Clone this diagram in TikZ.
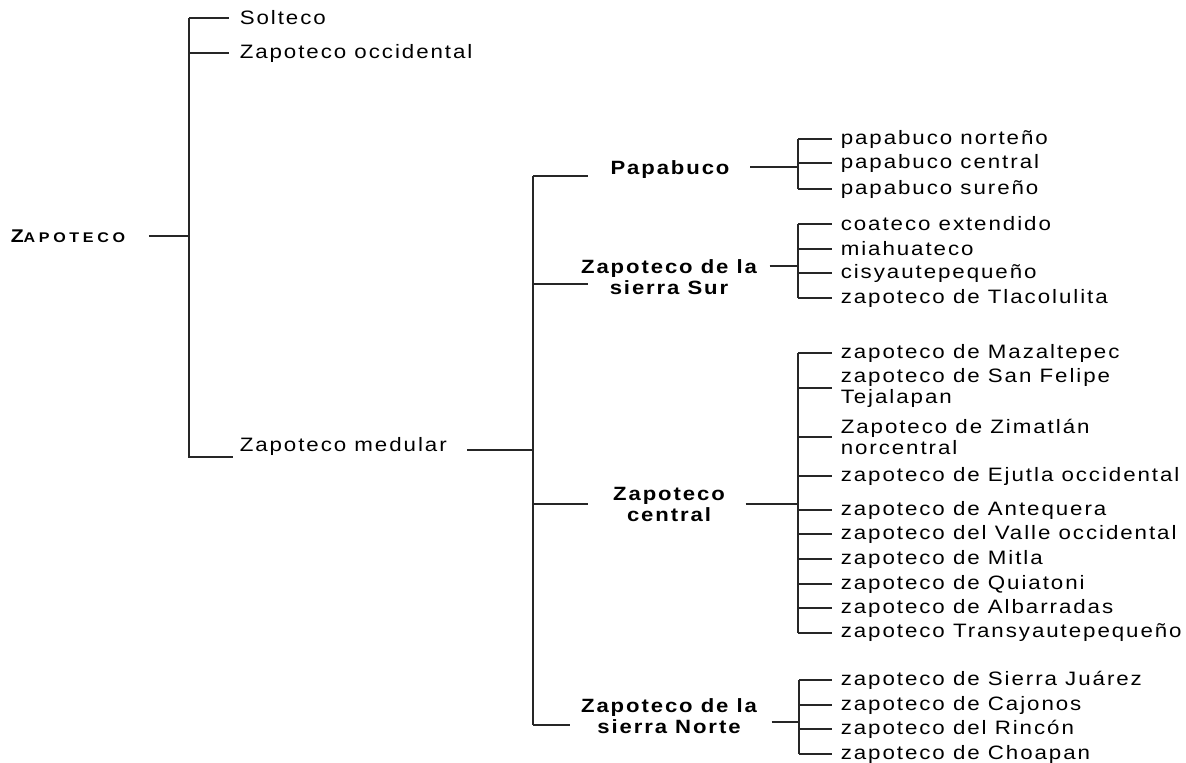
\documentclass[tikz,border=0pt]{standalone}
\usepackage{fontspec}
\setmainfont{Liberation Sans}[FakeStretch=1.15, LetterSpace=10]
\usetikzlibrary{calc,positioning}

\tikzset{
  leaf/.style={anchor=west, inner sep=0pt, align=left, font=\fontsize{9.7}{10.5}\selectfont},
  group/.style={inner sep=0pt, align=center, font=\fontsize{9.6}{10.5}\selectfont\bfseries},
  root/.style={anchor=west, inner sep=0pt, font=\bfseries\addfontfeature{LetterSpace=26}},
}

\begin{document}
\begin{tikzpicture}[x=0.5pt, y=-0.5pt, line width=0.75pt, draw=black!85]
    \useasboundingbox (0,0) rectangle (1186,763);

    \node[root] (zap) at (10,236) {\fontsize{9.2}{10}\selectfont Z\fontsize{7}{8}\selectfont APOTECO};
    \node[leaf] (sol) at (239,18) {Solteco};
    \node[leaf] (occ) at (239,53) {Zapoteco occidental};
    \node[leaf] (med) at (239,446) {Zapoteco medular};

    \node[group] (pap) at (670,170) {Papabuco};
    \node[group] (sur) at (669,277) {Zapoteco de la\\sierra Sur};
    \node[group] (cen) at (669,504) {Zapoteco\\central};
    \node[group] (nor) at (669,716) {Zapoteco de la\\sierra Norte};

    \node[leaf] (pa1) at (840,139) {papabuco norteño};
    \node[leaf] (pa2) at (840,163) {papabuco central};
    \node[leaf] (pa3) at (840,189) {papabuco sureño};

    \node[leaf] (su1) at (840,224) {coateco extendido};
    \node[leaf] (su2) at (840,249) {miahuateco};
    \node[leaf] (su3) at (840,273) {cisyautepequeño};
    \node[leaf] (su4) at (840,298) {zapoteco de Tlacolulita};

    \node[leaf] (ce1) at (840,353) {zapoteco de Mazaltepec};
    \node[leaf] (ce2) at (840,388) {zapoteco de San Felipe\\Tejalapan};
    \node[leaf] (ce3) at (840,437) {Zapoteco de Zimatlán\\norcentral};
    \node[leaf] (ce4) at (840,476) {zapoteco de Ejutla occidental};
    \node[leaf] (ce5) at (840,510) {zapoteco de Antequera};
    \node[leaf] (ce6) at (840,534) {zapoteco del Valle occidental};
    \node[leaf] (ce7) at (840,559) {zapoteco de Mitla};
    \node[leaf] (ce8) at (840,584) {zapoteco de Quiatoni};
    \node[leaf] (ce9) at (840,608) {zapoteco de Albarradas};
    \node[leaf] (ce10) at (840,633) {zapoteco Transyautepequeño};

    \node[leaf] (no1) at (840,680) {zapoteco de Sierra Juárez};
    \node[leaf] (no2) at (840,705) {zapoteco de Cajonos};
    \node[leaf] (no3) at (840,729) {zapoteco del Rincón};
    \node[leaf] (no4) at (840,754) {zapoteco de Choapan};

    % bus points and free ends
    \coordinate (b0) at (189,457);
    \coordinate (b1) at (533,450);
    \coordinate (bp) at (798,167);
    \coordinate (bs) at (798,266);
    \coordinate (bc) at (798,504);
    \coordinate (bn) at (799,722);
    \coordinate (mend) at (233,457);
    \coordinate (pend) at (588,176);
    \coordinate (send) at (588,284);
    \coordinate (cend) at (588,504);
    \coordinate (nend) at (570,725);

    \draw[shorten <=11.5pt] (zap.east) -- (b0 |- zap.east);
    \draw (b0 |- sol.west) -- (b0) -- (mend);
    \foreach \n in {sol,occ}
        \draw[shorten >=5pt] (b0 |- \n.west) -- (\n.west);

    \draw[shorten <=10pt] ([yshift=-2pt]med.east) -- (b1);
    \draw (b1 |- pend) -- (b1 |- nend);
    \foreach \e in {pend,send,cend,nend}
        \draw (b1 |- \e) -- (\e);

    \draw[shorten <=10pt] ([yshift=1.5pt]pap.east) -- (bp);
    \draw[shorten <=6pt] ([yshift=5.5pt]sur.east) -- (bs);
    \draw[shorten <=10pt] (cen.east) -- (bc);
    \draw[shorten <=7pt] ([yshift=-3pt]nor.east) -- (bn);

    \draw (bp |- pa1.west) -- (bp |- pa3.west);
    \foreach \n in {pa1,pa2,pa3}
        \draw[shorten >=4pt] (bp |- \n.west) -- (\n.west);
    \draw (bs |- su1.west) -- (bs |- su4.west);
    \foreach \n in {su1,su2,su3,su4}
        \draw[shorten >=4pt] (bs |- \n.west) -- (\n.west);
    \draw (bc |- ce1.west) -- (bc |- ce10.west);
    \foreach \n in {ce1,ce2,ce3,ce4,ce5,ce6,ce7,ce8,ce9,ce10}
        \draw[shorten >=4pt] (bc |- \n.west) -- (\n.west);
    \draw (bn |- no1.west) -- (bn |- no4.west);
    \foreach \n in {no1,no2,no3,no4}
        \draw[shorten >=4pt] (bn |- \n.west) -- (\n.west);
\end{tikzpicture}
\end{document}
